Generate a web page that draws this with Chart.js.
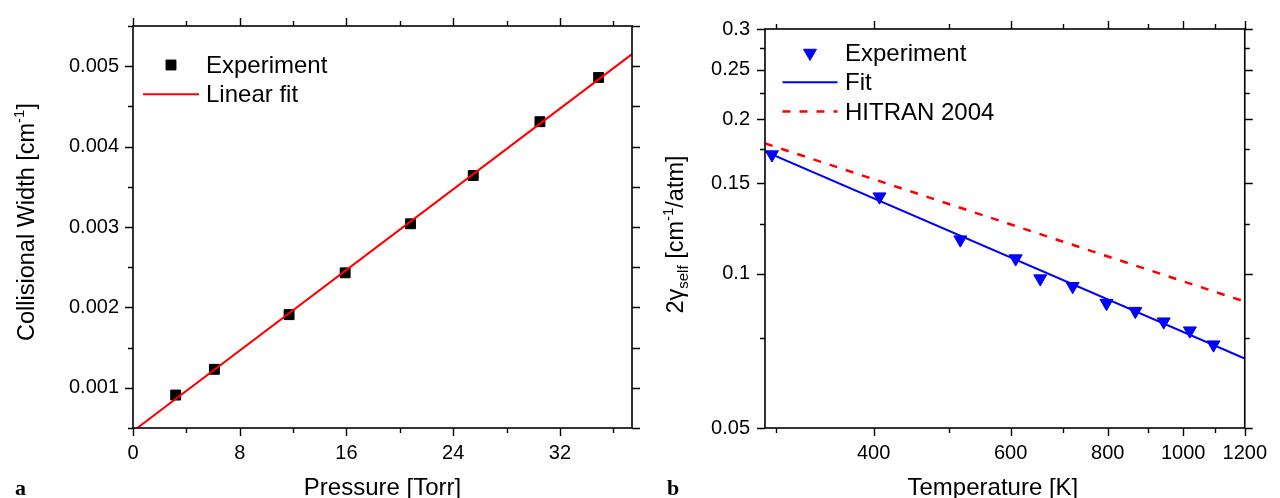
<!DOCTYPE html>
<html>
<head>
<meta charset="utf-8">
<title>Collisional width and self-broadening</title>
<script src="https://cdn.jsdelivr.net/npm/chart.js"></script>
<style>
  html, body { margin: 0; padding: 0; background: #fff; }
  #wrap { position: relative; width: 1280px; height: 498px; overflow: hidden; }
  .panel { position: absolute; top: 0; width: 640px; height: 498px; }
</style>
</head>
<body>
<div id="wrap">
  <div class="panel" style="left:0"><canvas id="pressureChart" width="640" height="498"></canvas></div>
  <div class="panel" style="left:640px"><canvas id="temperatureChart" width="640" height="498"></canvas></div>
</div>
<script>
// panel a: collisional width against pressure
const pressureTorr = [3.2, 6.1, 11.7, 15.9, 20.8, 25.5, 30.5, 34.9];
const collisionalWidth = [0.00091, 0.00123, 0.00191, 0.00243, 0.00304, 0.00364, 0.00431, 0.00486];
const linearFitPressure = [0, 37.4];
const linearFitWidth = [0.00046, 0.00515];
const pressureTicks = [0, 8, 16, 24, 32];
const pressureLabels = ['0', '8', '16', '24', '32'];
const pressureMinorTicks = [4, 12, 20, 28, 36];
const widthTicks = [0.001, 0.002, 0.003, 0.004, 0.005];
const widthLabels = ['0.001', '0.002', '0.003', '0.004', '0.005'];
const widthMinorTicks = [0.0005, 0.0015, 0.0025, 0.0035, 0.0045, 0.0055];

// panel b: self-broadening coefficient against temperature
const temperatureK = [296, 407, 517, 609, 655, 721, 797, 868, 944, 1020, 1094];
const selfBroadening = [0.1707, 0.1413, 0.1165, 0.1070, 0.0978, 0.0945, 0.0876, 0.0845, 0.0806, 0.0774, 0.0727];
const fitTemperature = [290, 1200];
const fitBroadening = [0.1732, 0.0683];
const hitranTemperature = [290, 1200];
const hitranBroadening = [0.1795, 0.0882];
const temperatureTicks = [400, 600, 800, 1000, 1200];
const temperatureLabels = ['400', '600', '800', '1000', '1200'];
const temperatureMinorTicks = [300, 500, 700, 900, 1100];
const broadeningTicks = [0.05, 0.1, 0.15, 0.2, 0.25, 0.3];
const broadeningLabels = ['0.05', '0.1', '0.15', '0.2', '0.25', '0.3'];
const broadeningMinorTicks = [0.075, 0.125, 0.175, 0.225, 0.275];

const FONT = "'Liberation Sans', Arial, Helvetica, sans-serif";
Chart.defaults.font.family = FONT;
Chart.defaults.color = '#000';

function points(xs, ys) {
  return xs.map((x, i) => ({ x: x, y: ys[i] }));
}

function tickSetter(major, minor) {
  return scale => {
    const list = major.map(v => ({ value: v, major: true }))
      .concat(minor.map(v => ({ value: v, major: false })));
    list.sort((p, q) => p.value - q.value);
    scale.ticks = list;
  };
}

function labeler(values, labels) {
  return value => {
    const i = values.findIndex(v => Math.abs(v - value) <= Math.abs(v) * 1e-6 + 1e-12);
    return i < 0 ? '' : labels[i];
  };
}

// box round the plot area with outward ticks on every side
const frameTicks = {
  id: 'frameTicks',
  afterDatasetsDraw(chart, args, opts) {
    const { ctx, chartArea: a } = chart;
    const xs = chart.scales.x, ys = chart.scales.y;
    const big = opts.major, small = opts.minor;
    ctx.save();
    ctx.strokeStyle = '#000';
    ctx.lineWidth = 1.4;
    ctx.beginPath();
    xs.ticks.forEach(t => {
      const px = Math.round(xs.getPixelForValue(t.value)) + 0.5;
      const len = t.major ? big : small;
      ctx.moveTo(px, a.bottom); ctx.lineTo(px, a.bottom + len);
      ctx.moveTo(px, a.top); ctx.lineTo(px, a.top - len);
    });
    ys.ticks.forEach(t => {
      const py = Math.round(ys.getPixelForValue(t.value)) + 0.5;
      const len = t.major ? big : small;
      const lenR = opts.rightAllMajor ? big : len;
      ctx.moveTo(a.left, py); ctx.lineTo(a.left - len, py);
      ctx.moveTo(a.right, py); ctx.lineTo(a.right + lenR, py);
    });
    ctx.stroke();
    ctx.lineWidth = 1.6;
    ctx.strokeRect(a.left, a.top, a.right - a.left, a.bottom - a.top);
    ctx.restore();
  }
};

// draws text runs with super- and subscripts centred on (cx, baseline)
function drawRich(ctx, parts, cx, baseline, size) {
  const small = Math.round(size * 0.65);
  const fontOf = p => (p.sup || p.sub ? small : size) + 'px ' + FONT;
  let total = 0;
  parts.forEach(p => { ctx.font = fontOf(p); total += ctx.measureText(p.t).width; });
  let x = cx - total / 2;
  ctx.textAlign = 'left';
  ctx.textBaseline = 'alphabetic';
  parts.forEach(p => {
    ctx.font = fontOf(p);
    const dy = p.sup ? -size * 0.42 : (p.sub ? size * 0.2 : 0);
    ctx.fillText(p.t, x, baseline + dy);
    x += ctx.measureText(p.t).width;
  });
}

const axisText = {
  id: 'axisText',
  afterDraw(chart, args, o) {
    const { ctx, chartArea: a } = chart;
    ctx.save();
    ctx.fillStyle = '#000';
    drawRich(ctx, o.xTitle, (a.left + a.right) / 2 + o.xShift, o.xBase, o.xSize);
    ctx.save();
    ctx.translate(o.yBase, (a.top + a.bottom) / 2 + o.yShift);
    ctx.rotate(-Math.PI / 2);
    drawRich(ctx, o.yTitle, 0, 0, o.ySize);
    ctx.restore();
    ctx.font = "bold 22px 'Liberation Serif', 'Times New Roman', serif";
    ctx.textAlign = 'left';
    ctx.textBaseline = 'alphabetic';
    ctx.fillText(o.panel, o.panelX, o.xBase);
    ctx.restore();
  }
};

// legend drawn inside the upper-left corner of the plot area
const insideLegend = {
  id: 'insideLegend',
  afterDraw(chart, args, o) {
    const { ctx, chartArea: a } = chart;
    const cx = a.left + o.x;
    ctx.save();
    chart.data.datasets.forEach((ds, i) => {
      const cy = a.top + o.top + i * o.gap;
      if (ds.showLine) {
        ctx.save();
        ctx.strokeStyle = ds.borderColor;
        ctx.lineWidth = ds.borderWidth;
        ctx.setLineDash(ds.borderDash || []);
        ctx.beginPath();
        ctx.moveTo(cx - o.half, cy);
        ctx.lineTo(cx + o.half, cy);
        ctx.stroke();
        ctx.restore();
      } else {
        ctx.fillStyle = ds.backgroundColor;
        ctx.strokeStyle = ds.borderColor;
        ctx.lineWidth = ds.borderWidth;
        Chart.helpers.drawPoint(ctx, {
          pointStyle: ds.pointStyle,
          rotation: ds.rotation || 0,
          radius: ds.pointRadius,
          borderWidth: ds.borderWidth
        }, cx, cy);
      }
      ctx.fillStyle = '#000';
      ctx.font = o.size + 'px ' + FONT;
      ctx.textAlign = 'left';
      ctx.textBaseline = 'alphabetic';
      ctx.fillText(ds.label, a.left + o.textX, cy + o.size * 0.34);
    });
    ctx.restore();
  }
};

function axis(type, min, max, major, minor, labels, fit) {
  return {
    type: type,
    min: min,
    max: max,
    grid: { display: false, drawTicks: false },
    border: { display: false },
    afterBuildTicks: tickSetter(major, minor),
    afterFit: fit,
    ticks: {
      callback: labeler(major, labels),
      autoSkip: false,
      maxRotation: 0,
      minRotation: 0,
      font: { size: 20 }
    }
  };
}

// panel a
const xA = axis('linear', 0, 37.4, pressureTicks, pressureMinorTicks, pressureLabels, s => { s.height = 70; });
xA.ticks.padding = 13;
const yA = axis('linear', 0.0005, 0.0055, widthTicks, widthMinorTicks, widthLabels, s => { s.width = 133; });
yA.ticks.padding = 14;

new Chart(document.getElementById('pressureChart'), {
  type: 'scatter',
  data: {
    datasets: [
      {
        label: 'Experiment',
        data: points(pressureTorr, collisionalWidth),
        pointStyle: 'rect',
        pointRadius: 7,
        backgroundColor: '#000',
        borderColor: '#000',
        borderWidth: 1,
        order: 1
      },
      {
        label: 'Linear fit',
        data: points(linearFitPressure, linearFitWidth),
        showLine: true,
        pointRadius: 0,
        borderColor: '#ff0000',
        borderWidth: 2,
        order: 0
      }
    ]
  },
  options: {
    responsive: false,
    animation: false,
    events: [],
    layout: { padding: { top: 21, right: 5, bottom: 0, left: 0 } },
    scales: { x: xA, y: yA },
    plugins: {
      legend: { display: false },
      tooltip: { enabled: false },
      frameTicks: { major: 8, minor: 5, rightAllMajor: true },
      insideLegend: { x: 38, top: 39, gap: 29.3, half: 28, textX: 73, size: 24 },
      axisText: {
        xSize: 24,
        ySize: 23.5,
        xTitle: [{ t: 'Pressure [Torr]' }],
        xShift: 0,
        xBase: 495,
        yTitle: [{ t: 'Collisional Width [cm' }, { t: '-1', sup: true }, { t: ']' }],
        yBase: 34,
        yShift: -5,
        panel: 'a',
        panelX: 15
      }
    }
  },
  plugins: [frameTicks, insideLegend, axisText]
});

// panel b
const xB = axis('logarithmic', 290, 1200, temperatureTicks, temperatureMinorTicks, temperatureLabels, s => { s.height = 70; });
xB.ticks.padding = 13;
const yB = axis('logarithmic', 0.05, 0.3, broadeningTicks, broadeningMinorTicks, broadeningLabels, s => { s.width = 125; });
yB.ticks.padding = 15;

new Chart(document.getElementById('temperatureChart'), {
  type: 'scatter',
  data: {
    datasets: [
      {
        label: 'Experiment',
        data: points(temperatureK, selfBroadening),
        pointStyle: 'triangle',
        rotation: 180,
        pointRadius: 7.5,
        backgroundColor: '#0000ff',
        borderColor: '#0000ff',
        borderWidth: 1,
        order: 2
      },
      {
        label: 'Fit',
        data: points(fitTemperature, fitBroadening),
        showLine: true,
        pointRadius: 0,
        borderColor: '#0000ff',
        borderWidth: 2,
        order: 1
      },
      {
        label: 'HITRAN 2004',
        data: points(hitranTemperature, hitranBroadening),
        showLine: true,
        pointRadius: 0,
        borderColor: '#ff0000',
        borderWidth: 2.5,
        borderDash: [8, 9],
        order: 0
      }
    ]
  },
  options: {
    responsive: false,
    animation: false,
    events: [],
    layout: { padding: { top: 29, right: 25, bottom: 0, left: 0 } },
    scales: { x: xB, y: yB },
    plugins: {
      legend: { display: false },
      tooltip: { enabled: false },
      frameTicks: { major: 8, minor: 5, rightAllMajor: false },
      insideLegend: { x: 45, top: 24, gap: 29.2, half: 27.5, textX: 80, size: 24 },
      axisText: {
        xSize: 24,
        ySize: 23.5,
        xTitle: [{ t: 'Temperature [K]' }],
        xShift: -12,
        xBase: 495,
        yTitle: [{ t: '2γ' }, { t: 'self', sub: true }, { t: ' [cm' }, { t: '-1', sup: true }, { t: '/atm]' }],
        yBase: 43,
        yShift: 6,
        panel: 'b',
        panelX: 27
      }
    }
  },
  plugins: [frameTicks, insideLegend, axisText]
});
</script>
</body>
</html>
